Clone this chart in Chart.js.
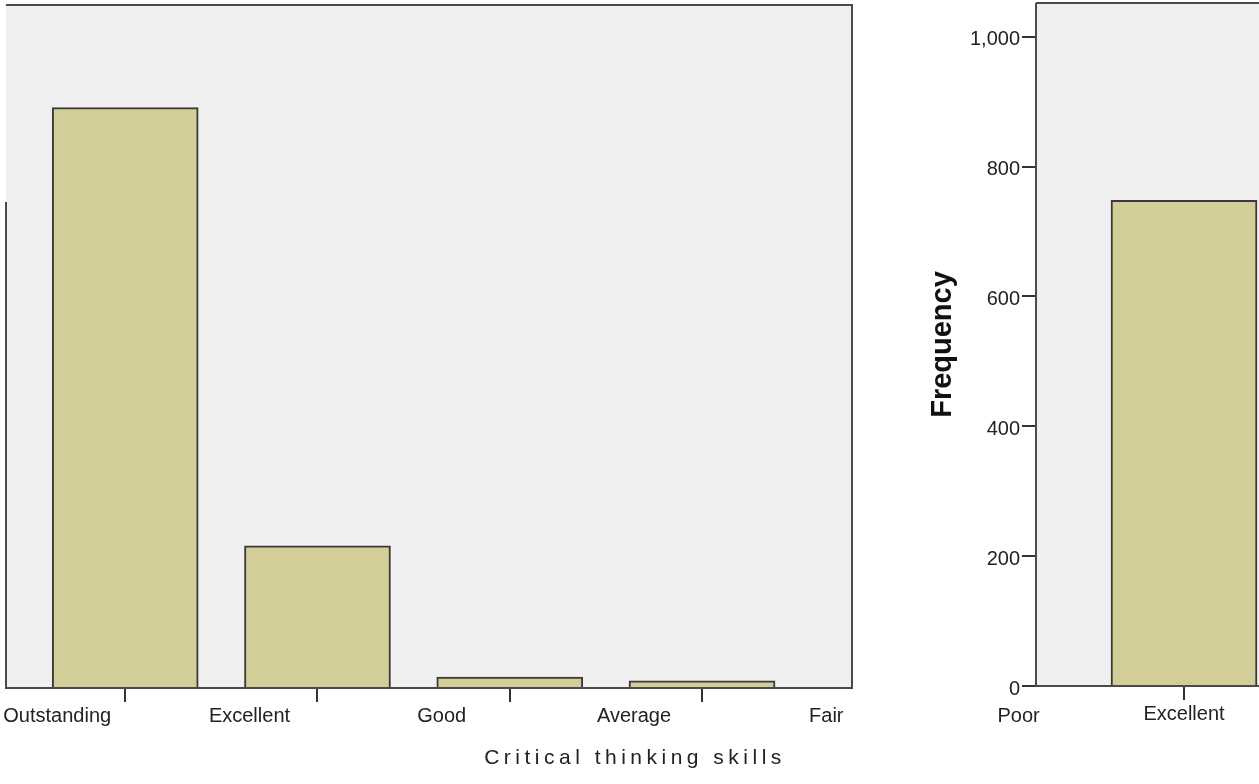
<!DOCTYPE html>
<html>
<head>
<meta charset="utf-8">
<script src="https://cdn.jsdelivr.net/npm/chart.js@4.4.0/dist/chart.umd.min.js"></script>
<style>
    html, body { margin: 0; padding: 0; background: #fff; overflow: hidden; width: 1259px; height: 784px; }
    #leftBox { position: absolute; left: 0; top: 0; width: 1259px; height: 784px; }
    #rightBox { position: absolute; left: 922px; top: 0; width: 678px; height: 784px; }
    #xTitle {
        position: absolute; left: 435px; width: 400px; top: 745px;
        text-align: center; color: #222; letter-spacing: 4.5px;
        font: 21px "Liberation Sans", Arial, sans-serif;
    }
</style>
</head>
<body>
<div id="leftBox"><canvas id="chartSkills"></canvas></div>
<div id="rightBox"><canvas id="chartFreq"></canvas></div>
<div id="xTitle">Critical thinking skills</div>

<script>
// ===============================
// DATOS
// ===============================
const skillLabels = ["Outstanding", "Excellent", "Good", "Average", "Fair", "Poor"];
const skillCounts = [894, 219, 17, 11, 0, 0];

const rightLabels = ["Excellent"];
const rightCounts = [748];

const freqTicks = [0, 200, 400, 600, 800, 1000];

Chart.defaults.font.family = '"Liberation Sans", Arial, sans-serif';
Chart.defaults.color = "#222";
Chart.defaults.animation = false;

const BAR_FILL = "#d3ce97";
const BAR_LINE = "#3a3a3a";
const FRAME = "#4a4a4a";

// fondo gris y marco del área de trazado
const framePlugin = {
    id: "frame",
    beforeDraw(chart, args, opts) {
        const a = chart.chartArea, ctx = chart.ctx;
        ctx.save();
        ctx.fillStyle = "#f0f0f0";
        ctx.fillRect(a.left, a.top, a.right - a.left, a.bottom - a.top);
        ctx.restore();
    },
    afterDatasetsDraw(chart, args, opts) {
        const a = chart.chartArea, ctx = chart.ctx;
        ctx.save();
        ctx.strokeStyle = FRAME;
        ctx.lineWidth = 2;
        ctx.beginPath();
        ctx.moveTo(a.left, a.top); ctx.lineTo(a.right, a.top);
        ctx.lineTo(a.right, a.bottom); ctx.lineTo(a.left, a.bottom);
        ctx.lineTo(a.left, opts.leftFrom != null ? opts.leftFrom : a.top);
        ctx.stroke();
        ctx.restore();
    }
};

const tickColor = (hideFrom) => (c) => (c.index >= hideFrom ? "rgba(0,0,0,0)" : "#333");
const noPad = (s) => { s.paddingLeft = 0; s.paddingRight = 0; s.paddingTop = 0; s.paddingBottom = 0; };

// ===============================
// GRÁFICO IZQUIERDO - Critical thinking skills
// ===============================
new Chart(document.getElementById("chartSkills"), {
    type: "bar",
    data: {
        datasets: [{
            data: skillCounts.map((v, i) => ({ x: i, y: v })),
            backgroundColor: BAR_FILL,
            borderColor: BAR_LINE,
            borderWidth: 2,
            barThickness: 146
        }]
    },
    options: {
        responsive: true,
        maintainAspectRatio: false,
        layout: { padding: { left: 6, top: 5, right: 407, bottom: 0 } },
        plugins: {
            legend: { display: false },
            tooltip: { enabled: false },
            frame: { leftFrom: 202 }
        },
        scales: {
            x: {
                type: "linear",
                offset: false,
                min: -0.62,
                max: 3.78,
                afterBuildTicks: (s) => { s.ticks = skillLabels.map((_, i) => ({ value: i })); },
                afterFit: (s) => { s.height = 96; noPad(s); },
                border: { display: false },
                grid: { offset: false, drawOnChartArea: false, tickLength: 14, lineWidth: 2, color: tickColor(4) },
                ticks: {
                    autoSkip: false,
                    maxRotation: 0,
                    padding: 2,
                    labelOffset: -68,
                    font: { size: 20 },
                    callback: (v) => skillLabels[v]
                }
            },
            y: { display: false, min: 0, max: 1052 }
        }
    },
    plugins: [framePlugin]
});

// ===============================
// GRÁFICO DERECHO - Frequency
// ===============================
new Chart(document.getElementById("chartFreq"), {
    type: "bar",
    data: {
        datasets: [{
            data: rightCounts.map((v, i) => ({ x: i, y: v })),
            backgroundColor: BAR_FILL,
            borderColor: BAR_LINE,
            borderWidth: 2,
            barThickness: 146
        }]
    },
    options: {
        responsive: true,
        maintainAspectRatio: false,
        layout: { padding: { left: 0, top: 3, right: 50, bottom: 0 } },
        plugins: {
            legend: { display: false },
            tooltip: { enabled: false }
        },
        scales: {
            x: {
                type: "linear",
                offset: false,
                min: -0.77,
                max: 1.904,
                afterBuildTicks: (s) => { s.ticks = rightLabels.map((_, i) => ({ value: i })); },
                afterFit: (s) => { s.height = 98; noPad(s); },
                border: { display: false },
                grid: { offset: false, drawOnChartArea: false, tickLength: 14, lineWidth: 2, color: "#333" },
                ticks: {
                    autoSkip: false,
                    maxRotation: 0,
                    padding: 2,
                    font: { size: 20 },
                    callback: (v) => rightLabels[v]
                }
            },
            y: {
                min: 0,
                max: 1052,
                afterBuildTicks: (s) => { s.ticks = freqTicks.map((v) => ({ value: v })); },
                afterFit: (s) => { s.width = 114; noPad(s); },
                border: { display: false },
                grid: { drawOnChartArea: false, tickLength: 14, lineWidth: 2, color: "#333" },
                ticks: { padding: 2, labelOffset: 3, font: { size: 20 } },
                title: {
                    display: true,
                    text: "Frequency",
                    padding: { top: 4, bottom: 0 },
                    font: { size: 29, weight: "bold" },
                    color: "#111"
                }
            }
        }
    },
    plugins: [framePlugin]
});
</script>
</body>
</html>
